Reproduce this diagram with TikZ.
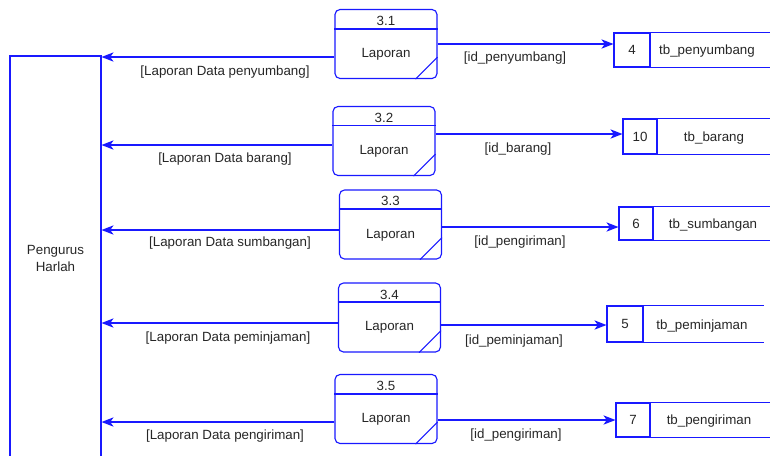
\documentclass[tikz,border=0pt]{standalone}
\usepackage{fontspec}
\setmainfont{Liberation Sans}
\usetikzlibrary{arrows.meta}
\newdimen\pxu \pxu=0.75pt

\begin{document}
\begin{tikzpicture}[x=0.75pt, y=-0.75pt,
		every node/.style={font=\fontsize{10}{12.75}\selectfont, text=black!85},
		txt/.style={yshift=-1.5\pxu},
		line/.style={draw=blue!90!white, line width=0.85pt},
		flow/.style={line, -{Stealth[length=9pt, width=7pt, inset=2.5pt]}},
		proc/.style={line, rectangle, rounded corners=5\pxu, minimum width=102\pxu,
			minimum height=69\pxu, inner sep=0pt},
		store/.style={line, rectangle, inner sep=0pt}]
		\useasboundingbox (0,0) rectangle (770,455);
		\clip (0,0) rectangle (770,455);

		% External entity.
		\node[line, rectangle, minimum width=91\pxu, minimum height=404\pxu, align=center]
			(ent) at (55.5,258) {Pengurus\\Harlah};

		% Process 3.1.
		\node[proc] (p1) at (386,44) {};
		\draw[line] (p1.west |- 0,29) -- (p1.east |- 0,29);
		\draw[line] (p1.south east) ++(-22,0) -- ++(22,-22);
		\node[txt] at (386,19) {3.1};
		\node[txt] at (386,53) {Laporan};
		\node[store, minimum width=36\pxu, minimum height=34\pxu] (s1) at (632,50) {4};
		\draw[line] (s1.north east) -- ++(130,0) (s1.south east) -- ++(130,0);
		\node[txt] at (707,50) {tb\_penyumbang};
		\draw[flow] (p1.east |- 0,44) -- (s1.west |- 0,44);
		\draw[flow] (p1.west |- 0,57) -- (ent.east |- 0,57);
		\node[txt] at (515,57) {[id\_penyumbang]};
		\node[txt] at (225,71) {[Laporan Data penyumbang]};

		% Process 3.2.
		\node[proc] (p2) at (384,141) {};
		\draw[line] (p2.west |- 0,125.5) -- (p2.east |- 0,125.5);
		\draw[line] (p2.south east) ++(-22,0) -- ++(22,-22);
		\node[txt] at (384,116) {3.2};
		\node[txt] at (384,150) {Laporan};
		\node[store, minimum width=34\pxu, minimum height=35\pxu] (s2) at (640,136.5) {10};
		\draw[line] (s2.north east) -- ++(130,0) (s2.south east) -- ++(130,0);
		\node[txt] at (714,137) {tb\_barang};
		\draw[flow] (p2.east |- 0,134) -- (s2.west |- 0,134);
		\draw[flow] (p2.west |- 0,145) -- (ent.east |- 0,145);
		\node[txt] at (518,148) {[id\_barang]};
		\node[txt] at (225,158) {[Laporan Data barang]};

		% Process 3.3.
		\node[proc] (p3) at (390.5,224.5) {};
		\draw[line] (p3.west |- 0,209) -- (p3.east |- 0,209);
		\draw[line] (p3.south east) ++(-22,0) -- ++(22,-22);
		\node[txt] at (390.5,199) {3.3};
		\node[txt] at (390.5,234) {Laporan};
		\node[store, minimum width=34\pxu, minimum height=33\pxu] (s3) at (636,223.5) {6};
		\draw[line] (s3.north east) -- ++(130,0) (s3.south east) -- ++(130,0);
		\node[txt] at (713,224) {tb\_sumbangan};
		\draw[flow] (p3.east |- 0,227) -- (s3.west |- 0,227);
		\draw[flow] (p3.west |- 0,230) -- (ent.east |- 0,230);
		\node[txt] at (520,241) {[id\_pengiriman]};
		\node[txt] at (230,242) {[Laporan Data sumbangan]};

		% Process 3.4.
		\node[proc] (p4) at (389.5,317.5) {};
		\draw[line] (p4.west |- 0,302) -- (p4.east |- 0,302);
		\draw[line] (p4.south east) ++(-22,0) -- ++(22,-22);
		\node[txt] at (389.5,293) {3.4};
		\node[txt] at (389.5,326) {Laporan};
		\node[store, minimum width=36\pxu, minimum height=36\pxu] (s4) at (625,324) {5};
		\draw[line] (s4.north east) -- ++(120,0) (s4.south east) -- ++(120,0);
		\node[txt] at (702,325) {tb\_peminjaman};
		\draw[flow] (p4.east |- 0,325) -- (s4.west |- 0,325);
		\draw[flow] (p4.west |- 0,323) -- (ent.east |- 0,323);
		\node[txt] at (514,340) {[id\_peminjaman]};
		\node[txt] at (228,337) {[Laporan Data peminjaman]};

		% Process 3.5.
		\node[proc] (p5) at (386,409) {};
		\draw[line] (p5.west |- 0,394) -- (p5.east |- 0,394);
		\draw[line] (p5.south east) ++(-22,0) -- ++(22,-22);
		\node[txt] at (386,384) {3.5};
		\node[txt] at (386,418) {Laporan};
		\node[store, minimum width=34\pxu, minimum height=34\pxu] (s5) at (633,420) {7};
		\draw[line] (s5.north east) -- ++(130,0) (s5.south east) -- ++(130,0);
		\node[txt] at (709,420) {tb\_pengiriman};
		\draw[flow] (p5.east |- 0,420) -- (s5.west |- 0,420);
		\draw[flow] (p5.west |- 0,422) -- (ent.east |- 0,422);
		\node[txt] at (516,434) {[id\_pengiriman]};
		\node[txt] at (225,435) {[Laporan Data pengiriman]};

	\end{tikzpicture}
\end{document}
